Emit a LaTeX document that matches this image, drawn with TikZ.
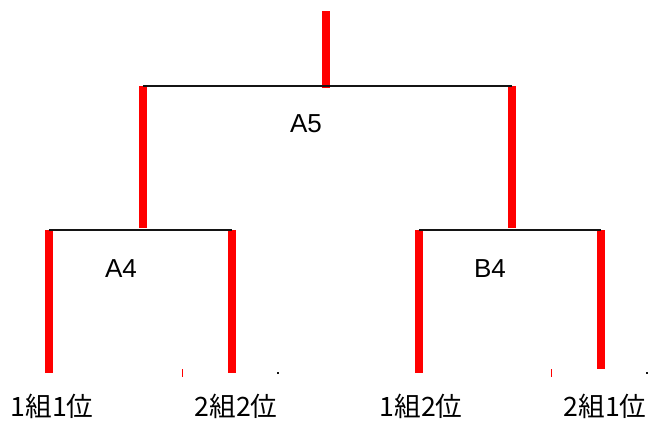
\documentclass[tikz,border=0pt]{standalone}
\usepackage{fontspec}
\setmainfont{Liberation Sans}
\newfontfamily\jpfont{Noto Sans CJK JP}
\usetikzlibrary{positioning}
\definecolor{barred}{RGB}{255,0,0}
\definecolor{railblack}{RGB}{20,20,20}
\tikzset{
  bar/.style={line width=6pt,color=barred},
  rail/.style={line width=1.3pt,color=railblack},
  tag/.style={inner sep=0pt,font=\fontsize{19.5}{22}\selectfont},
  seat/.style={inner sep=0pt,font=\jpfont\fontsize{20}{23}\selectfont},
}
\begin{document}
\begin{tikzpicture}[x=0.75pt,y=-0.75pt]
\useasboundingbox (0,0) rectangle (653,421);
% final
\coordinate (top) at (326,11);
\coordinate (topj) at (326,88);
\coordinate (a5l) at (143,86);
\coordinate (a5r) at (512,86);
% semi finals
\coordinate (a4j) at (143,228);
\coordinate (b4j) at (512,228);
\coordinate (a4l) at (49,230);
\coordinate (a4r) at (232,230);
\coordinate (b4l) at (419,230);
\coordinate (b4r) at (601,230);
% seats
\coordinate (s1) at (49,373);
\coordinate (s2) at (232,373);
\coordinate (s3) at (419,373);
\coordinate (s4) at (601,369);
\draw[bar](top)--(topj);
\draw[bar](a5l)--(a4j);
\draw[bar](a5r)--(b4j);
\foreach \u/\v in {a4l/s1,a4r/s2,b4l/s3,b4r/s4}{
  \draw[bar](\u)--(\v);}
\draw[rail](a5l)--(a5r);
\draw[rail](a4l)--(a4r);
\draw[rail](b4l)--(b4r);
% stray marks
\foreach \x in {182.3,551.3}{
  \draw[line width=0.8pt,color=barred](\x,369)--(\x,376.5);}
\foreach \x in {278.3,647.3}{
  \fill[railblack](\x-1,371.5) rectangle (\x+1,373.5);}
% labels
\node[tag] (A5) at (306,124) {A5};
\node[tag] (A4) at (121,269) {A4};
\node[tag] (B4) at (490,269) {B4};
\node[seat] (p1) at (52,406) {1組1位};
\node[seat] (p2) at (236,406) {2組2位};
\node[seat] (p3) at (421,406) {1組2位};
\node[seat] (p4) at (605,406) {2組1位};
\end{tikzpicture}
\end{document}
